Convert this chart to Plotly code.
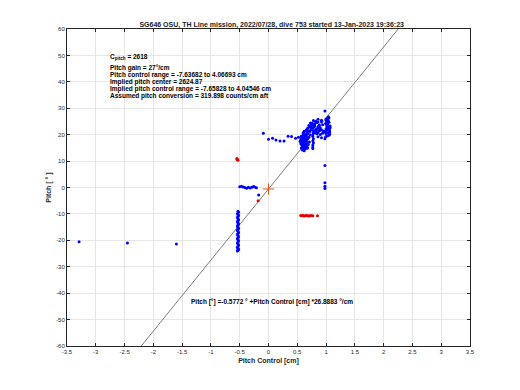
import plotly.graph_objects as go

title = "SG646 OSU, TH Line mission, 2022/07/28, dive 753 started 13-Jan-2023 19:36:23"
x_ticks = [-3.5, -3, -2.5, -2, -1.5, -1, -0.5, 0, 0.5, 1, 1.5, 2, 2.5, 3, 3.5]
y_ticks = [-60, -50, -40, -30, -20, -10, 0, 10, 20, 30, 40, 50, 60]

fit_offset = -0.5772
fit_slope = 26.8883

info_lines = [
    "C<sub>pitch</sub> = 2618",
    "Pitch gain = 27°/cm",
    "Pitch control range = -7.63682 to 4.06693 cm",
    "Implied pitch center = 2624.87",
    "Implied pitch control range = -7.65828 to 4.04546 cm",
    "Assumed pitch conversion = 319.898 counts/cm aft",
]
info_y = [49.3, 45.1, 42.6, 39.9, 37.3, 34.6]

# blue (good) points
blue_x = [
    -3.29, -2.45, -1.60,
    # column near -0.53
    -0.53, -0.52, -0.54, -0.53, -0.52, -0.53, -0.54, -0.53, -0.52, -0.53,
    -0.54, -0.53, -0.52, -0.53, -0.54, -0.53, -0.52, -0.53, -0.54, -0.53,
    -0.52, -0.53, -0.54, -0.53, -0.52, -0.53, -0.54, -0.53, -0.52, -0.53,
    -0.54, -0.53, -0.52, -0.53, -0.54, -0.53, -0.52, -0.53, -0.54, -0.53,
    # near zero
    -0.50, -0.47, -0.44, -0.41, -0.38, -0.35, -0.32, -0.29, -0.26, -0.24, -0.21, -0.17,
    # at x ~ 1
    0.98, 0.98, 0.98, 0.98, 0.98,
    # top trail
    -0.09, 0.00, 0.07, 0.13, 0.20, 0.27, 0.34, 0.40, 0.47, 0.52,
    # main blob
    0.55, 0.56, 0.57, 0.58, 0.59, 0.60, 0.61, 0.62, 0.63, 0.64, 0.65, 0.66,
    0.56, 0.57, 0.58, 0.59, 0.60, 0.61, 0.62, 0.63, 0.64, 0.65, 0.66, 0.67,
    0.57, 0.58, 0.59, 0.60, 0.61, 0.62, 0.63, 0.64, 0.65, 0.66, 0.67, 0.68,
    0.58, 0.59, 0.60, 0.61, 0.62, 0.63, 0.64, 0.65, 0.66, 0.67, 0.68, 0.69,
    0.60, 0.61, 0.62, 0.63, 0.64, 0.65, 0.66, 0.68, 0.70, 0.71, 0.72, 0.62,
    # streak at 0.77
    0.77, 0.77, 0.78, 0.77, 0.78, 0.77, 0.77, 0.78, 0.77,
    # upper cluster
    0.66, 0.68, 0.70, 0.72, 0.74, 0.76, 0.78, 0.80, 0.82, 0.84, 0.86, 0.88,
    0.70, 0.72, 0.74, 0.76, 0.78, 0.80, 0.82, 0.84, 0.86, 0.88, 0.90, 0.92,
    0.74, 0.76, 0.78, 0.80, 0.82, 0.84, 0.86, 0.88, 0.90, 0.92, 0.94, 0.96,
    0.80, 0.82, 0.84, 0.86, 0.88, 0.90, 0.92, 0.94, 0.96, 0.71, 0.73, 0.75,
    # right column
    0.99, 1.00, 1.01, 1.02, 1.03, 1.04, 1.05, 1.06, 1.07, 0.99, 1.00, 1.01,
    1.02, 1.03, 1.04, 1.05, 1.06, 1.07, 0.99, 1.00, 1.02, 1.04, 1.06, 1.01,
    1.03, 1.05, 1.00, 1.02, 1.04, 1.06,
    # right trailing
    0.86, 0.92, 0.98,
]
blue_y = [
    -20.5, -21.0, -21.4,
    -9.0, -9.4, -9.8, -10.2, -10.6, -11.0, -11.4, -11.8, -12.2, -12.6,
    -13.0, -13.4, -13.8, -14.2, -14.6, -15.0, -15.4, -15.8, -16.2, -16.6,
    -17.0, -17.4, -17.8, -18.2, -18.6, -19.0, -19.4, -19.8, -20.2, -20.6,
    -21.0, -21.4, -21.8, -22.2, -22.6, -23.0, -23.4, -23.8, -24.0, -23.6,
    0.3, 0.5, 0.2, 0.0, -0.3, 0.1, -0.2, 0.1, 0.4, 0.2, -0.1, -2.8,
    8.3, 1.8, 0.5, -0.4, 29.0,
    20.5, 18.3, 18.6, 18.0, 17.6, 17.6, 19.4, 19.3, 18.6, 19.0,
    17.5, 18.2, 16.4, 19.0, 15.2, 17.8, 20.1, 16.0, 18.7, 14.8, 17.2, 19.5,
    16.8, 19.4, 18.0, 15.6, 20.6, 16.6, 14.4, 19.9, 17.4, 15.8, 18.3, 21.0,
    15.0, 17.1, 14.2, 18.8, 16.2, 21.3, 17.9, 15.4, 20.2, 16.9, 19.1, 15.1,
    18.4, 16.0, 19.8, 17.3, 15.2, 18.9, 16.4, 21.6, 17.6, 14.9, 20.4, 16.3,
    14.6, 20.8, 16.9, 17.8, 19.6, 15.5, 21.9, 18.5, 19.0, 17.2, 20.0, 13.9,
    15.3, 16.1, 16.9, 17.7, 18.5, 19.3, 20.1, 20.8, 14.8,
    21.8, 22.4, 21.5, 23.1, 22.0, 24.0, 22.7, 23.4, 21.9, 24.6, 23.0, 22.3,
    23.5, 21.2, 22.8, 24.3, 21.6, 23.9, 25.1, 22.2, 24.8, 23.3, 21.7, 25.5,
    24.1, 22.5, 25.4, 23.2, 24.5, 22.0, 25.8, 23.7, 22.6, 24.9, 23.8, 21.4,
    20.6, 21.1, 20.3, 20.8, 21.5, 20.1, 21.9, 20.5, 21.2, 22.9, 24.4, 23.6,
    19.2, 20.4, 21.6, 22.8, 24.0, 25.2, 26.4, 20.9, 23.3, 21.0, 22.2, 23.4,
    24.6, 25.8, 26.8, 19.8, 21.2, 22.6, 24.2, 25.6, 26.2, 23.1, 20.2, 25.0,
    22.3, 24.7, 25.9, 19.5, 20.7, 21.8,
    19.2, 18.8, 18.5,
]

# red (flagged) points
red_x = [-0.54, -0.53, -0.55, -0.54, -0.18,
         0.56, 0.58, 0.60, 0.62, 0.64, 0.66, 0.68, 0.70, 0.72, 0.74, 0.77, 0.85]
red_y = [10.7, 10.3, 11.0, 10.5, -5.0,
         -10.6, -10.7, -10.6, -10.8, -10.7, -10.6, -10.7, -10.8, -10.7, -10.6, -10.7, -10.7]

center_x = [0.0]
center_y = [fit_offset]

fit_x = [-3.5, 3.5]
fit_y = [fit_offset + fit_slope * v for v in fit_x]

FONT = "Liberation Sans"

fig = go.Figure()
fig.add_trace(go.Scatter(x=fit_x, y=fit_y, mode="lines",
                         line=dict(color="#444444", width=0.7), hoverinfo="skip"))
fig.add_trace(go.Scatter(x=blue_x, y=blue_y, mode="markers",
                         marker=dict(color="#0000ff", size=3, line=dict(width=0))))
fig.add_trace(go.Scatter(x=red_x, y=red_y, mode="markers",
                         marker=dict(color="#e00000", size=3, line=dict(width=0))))
fig.add_trace(go.Scatter(x=center_x, y=center_y, mode="markers",
                         marker=dict(symbol="cross-thin", size=8, color="#d95319",
                                     line=dict(color="#d95319", width=1))))

for t, yy in zip(info_lines, info_y):
    fig.add_annotation(x=-2.79, y=yy, text="<b>" + t + "</b>", showarrow=False,
                       xanchor="left", yanchor="middle",
                       font=dict(family=FONT, size=6.5, color="#000000"))

fig.add_annotation(x=-1.38, y=-43.4,
                   text="<b>Pitch [°] =-0.5772 ° +Pitch Control [cm] *26.8883 °/cm</b>",
                   showarrow=False, xanchor="left", yanchor="middle",
                   font=dict(family=FONT, size=6.5, color="#000000"))

# page body has an 8px default margin, so the figure is 8px smaller and offsets shifted
fig.update_layout(
    width=512, height=382,
    margin=dict(l=59, r=50, t=21, b=44),
    paper_bgcolor="white", plot_bgcolor="white",
    showlegend=False,
    title=dict(text="<b>" + title + "</b>", x=0.515, xanchor="center",
               yref="paper", y=1.0, yanchor="bottom", pad=dict(b=2),
               font=dict(family=FONT, size=7, color="#222222")),
    font=dict(family=FONT, size=6, color="#262626"),
)
axis_common = dict(showgrid=True, gridcolor="#e6e6e6", gridwidth=1,
                   showline=True, linecolor="#262626", linewidth=1, mirror="allticks",
                   ticks="inside", ticklen=3, tickcolor="#262626", zeroline=False,
                   tickfont=dict(family=FONT, size=6, color="#262626"))
fig.update_xaxes(range=[-3.5, 3.5], tickvals=x_ticks,
                 ticktext=[("%g" % v) for v in x_ticks],
                 title=dict(text="<b>Pitch Control [cm]</b>", standoff=3,
                            font=dict(family=FONT, size=7, color="#262626")),
                 **axis_common)
fig.update_yaxes(range=[-60, 60], tickvals=y_ticks,
                 ticktext=[("%g" % v) for v in y_ticks],
                 title=dict(text="<b>Pitch [ ° ]</b>", standoff=3,
                            font=dict(family=FONT, size=7, color="#262626")),
                 **axis_common)

fig.write_html("out.html")
